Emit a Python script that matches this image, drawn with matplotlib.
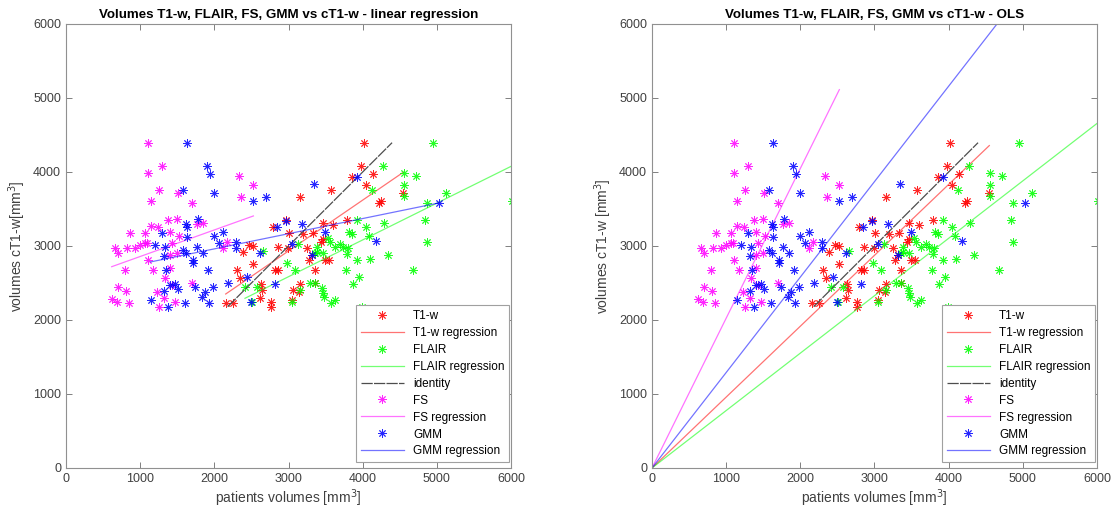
import numpy as np
import matplotlib.pyplot as plt

plt.rcParams['font.family'] = ['Liberation Sans', 'DejaVu Sans']

# patient volumes (x) vs cT1-w volumes (y)
t1_x = [3155, 2153, 2256, 2390, 2472, 2517, 2301, 2346, 2517, 2625,
        2638, 2616, 2760, 2760, 2818, 2863, 2795, 2863, 2966, 2989,
        3065, 3155, 3146, 3043, 3245, 3281, 3313, 3357, 3357, 3011,
        4018, 3977, 3852, 4135, 4045, 3573, 4243, 4225, 4548, 3784,
        3469, 3604, 3434, 3461, 3492, 3550, 3334, 3191]
t1_y = [3667, 2225, 2225, 2923, 3014, 3005, 2676, 2563, 2757, 2486,
        2405, 2293, 2248, 2180, 2676, 2676, 3261, 2991, 3351, 2968,
        2405, 2486, 2383, 2270, 2968, 2811, 2878, 2676, 2496, 3171,
        4396, 4081, 3937, 3973, 3824, 3757, 3612, 3577, 3712, 3351,
        3307, 3284, 3059, 3090, 2811, 2811, 3171, 3162]

flair_x = [2660, 2413, 2503, 2571, 2984, 3087, 3043, 3155, 3290, 3357,
           3132, 3357, 3380, 4953, 4279, 4561, 4719, 4561, 4122, 4561,
           5119, 4863, 6017, 3928, 4287, 4840, 4041, 3820, 3852, 4085,
           4871, 3537, 3559, 3694, 3627, 3739, 3806, 3784, 3388,
           3469, 3919, 4099, 4346, 3775, 4674, 3447,
           3461, 3479, 3568, 3627, 3865, 3955, 3995]
flair_y = [2937, 2450, 2248, 2450, 2766, 2676, 2248, 2405, 2496, 2496,
           3027, 2901, 2991, 4396, 4081, 3982, 3946, 3824, 3757, 3676,
           3721, 3586, 3612, 3351, 3307, 3351, 3261, 3194, 3162, 3135,
           3059, 3104, 3059, 3027, 2991, 2991, 2968, 2892, 2923,
           2901, 2811, 2820, 2878, 2676, 2676, 2428,
           2369, 2307, 2234, 2270, 2486, 2577, 2180]

fs_x = [1110, 1290, 1110, 1258, 1514, 1142, 1699, 2337, 2526, 2355,
        863, 1142, 1245, 1380, 1501, 1065, 1402, 1519, 1851, 1771,
        661, 706, 818, 930, 998, 1065, 1097, 1425, 1402, 1492,
        1101, 2121, 2166, 795, 1177, 1402, 706, 809, 1335, 1223,
        1425, 1694, 616, 683, 849, 1258, 1470, 1321]
fs_y = [4396, 4081, 3982, 3757, 3712, 3612, 3577, 3946, 3824, 3667,
        3171, 3274, 3261, 3351, 3360, 3180, 3194, 3135, 3307, 3297,
        2968, 2901, 2968, 2968, 3014, 3036, 3045, 3036, 2878, 2901,
        2811, 2968, 3059, 2676, 2676, 2698, 2442, 2396, 2563, 2383,
        2473, 2496, 2279, 2248, 2225, 2180, 2248, 2293]

gmm_x = [1627, 1897, 1942, 1573, 1996, 2526, 2697, 3344, 1784, 1618,
         1636, 1299, 1627, 1996, 2112, 2067, 2292, 2288, 1200, 1335,
         1582, 1618, 1762, 1851, 1325, 1708, 1717, 1344, 1919, 1402,
         1470, 1514, 1325, 1739, 1874, 1986, 1838, 1142, 1371, 1604,
         1924, 2180, 2436, 2490, 2616, 2818, 2840, 2962, 3043, 3186,
         3919, 3313, 4180, 5033, 3492]
gmm_y = [4396, 4081, 3973, 3757, 3721, 3612, 3667, 3833, 3360, 3297,
         3261, 3171, 3126, 3135, 3194, 3045, 3059, 2977, 3014, 2991,
         2946, 2910, 2991, 2910, 2865, 2811, 2766, 2676, 2676, 2473,
         2486, 2414, 2396, 2450, 2383, 2450, 2307, 2270, 2180, 2234,
         2225, 2496, 2577, 2248, 2901, 2486, 3261, 3342, 3027, 3297,
         3937, 2878, 3072, 3577, 3194]

# fitted coefficients
lin_slope = {'T1-w': 0.687, 'FLAIR': 0.497, 'FS': 0.359, 'GMM': 0.205}
lin_icpt = {'T1-w': 872, 'FLAIR': 1094, 'FS': 2499, 'GMM': 2551}
ols_slope = {'T1-w': 0.958, 'FLAIR': 0.776, 'FS': 2.024, 'GMM': 1.29}

series = [('T1-w', t1_x, t1_y, '#ff0000'),
          ('FLAIR', flair_x, flair_y, '#00ff00'),
          ('FS', fs_x, fs_y, '#ff00ff'),
          ('GMM', gmm_x, gmm_y, '#0000ff')]

all_y = t1_y + flair_y + fs_y + gmm_y
ident = np.array([min(all_y), max(all_y)])

star = (8, 2, 0)
fig = plt.figure(figsize=(11.17, 5.17), dpi=100)
ax1 = fig.add_axes([0.0591, 0.0948, 0.3984, 0.8588])
ax2 = fig.add_axes([0.5837, 0.0948, 0.3984, 0.8588])

for ax, mode in [(ax1, 'lin'), (ax2, 'ols')]:
    for i, (name, xs, ys, col) in enumerate(series):
        xs = np.array(xs)
        ax.plot(xs, ys, linestyle='none', marker=star, markersize=6,
                markeredgewidth=0.65, color=col, alpha=0.85, label=name)
        if mode == 'lin':
            xx = np.array([xs.min(), xs.max()])
            yy = lin_slope[name] * xx + lin_icpt[name]
        else:
            xx = np.array([0, xs.max()])
            yy = ols_slope[name] * xx
        ax.plot(xx, yy, color=col, lw=0.9, alpha=0.55, label=name + ' regression')
        if i == 1:
            ax.plot(ident, ident, color='0.3', lw=0.9, ls=(0, (9, 1)),
                    label='identity')

    ax.set_xlim(0, 6000)
    ax.set_ylim(0, 6000)
    ax.set_xticks(range(0, 6001, 1000))
    ax.set_yticks(range(0, 6001, 1000))
    ax.tick_params(direction='in', top=True, right=True, length=4,
                   width=0.7, color='#808080', labelcolor='#404040',
                   labelsize=9)
    for sp in ax.spines.values():
        sp.set_color('#909090')
        sp.set_linewidth(0.8)
    ax.set_xlabel('patients volumes [mm$^3$]', fontsize=10, color='#404040',
                  labelpad=2)
    leg = ax.legend(loc='lower right', bbox_to_anchor=(0.996, 0.013),
                    borderaxespad=0, fontsize=8.5, fancybox=False,
                    edgecolor='#a0a0a0', framealpha=1, handlelength=3.6,
                    labelspacing=0.42, borderpad=0.4, handletextpad=0.8)
    leg.get_frame().set_linewidth(0.8)

ax1.set_ylabel('volumes cT1-w[mm$^3$]', fontsize=10, color='#404040', labelpad=4)
ax2.set_ylabel('volumes cT1-w [mm$^3$]', fontsize=10, color='#404040', labelpad=4)
ax1.set_title('Volumes T1-w, FLAIR, FS, GMM vs cT1-w - linear regression',
              fontsize=9.6, fontweight='bold', pad=4)
ax2.set_title('Volumes T1-w, FLAIR, FS, GMM vs cT1-w - OLS',
              fontsize=9.6, fontweight='bold', pad=4)

fig.savefig('out.png', dpi=100)
